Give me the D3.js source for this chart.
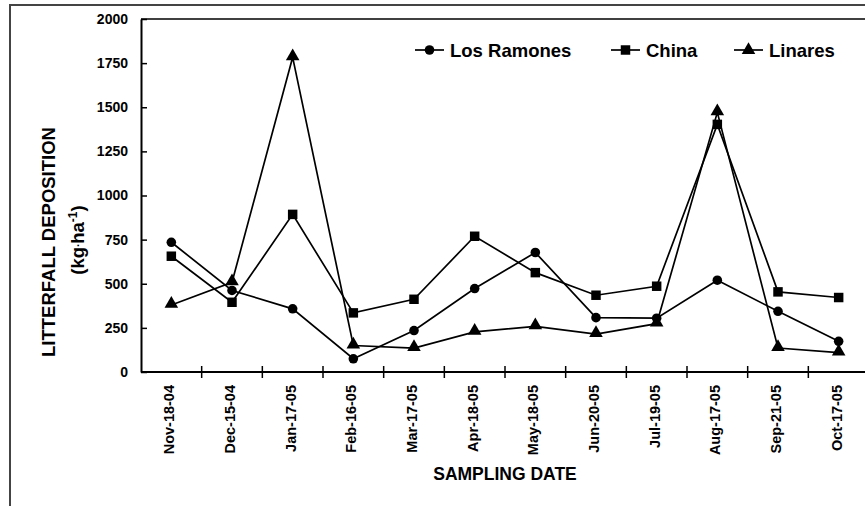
<!DOCTYPE html>
<html>
<head>
<meta charset="utf-8">
<script src="https://cdn.jsdelivr.net/npm/d3@7"></script>
<style>
  body { margin: 0; background: #fff; }
  svg { display: block; font-family: "Liberation Sans", Arial, sans-serif; }
</style>
</head>
<body>
<div id="chart"></div>
<script>
// sampling dates and litterfall values (kg/ha)
const dates = ['Nov-18-04', 'Dec-15-04', 'Jan-17-05', 'Feb-16-05', 'Mar-17-05', 'Apr-18-05',
  'May-18-05', 'Jun-20-05', 'Jul-19-05', 'Aug-17-05', 'Sep-21-05', 'Oct-17-05'];
const losRamones = [735, 462, 358, 75, 235, 473, 677, 308, 305, 520, 344, 174];
const china = [656, 395, 893, 335, 412, 769, 563, 435, 486, 1403, 454, 422];
const linares = [380, 508, 1783, 150, 135, 227, 259, 215, 274, 1471, 136, 110];
const yTicks = [0, 250, 500, 750, 1000, 1250, 1500, 1750, 2000];
const seriesNames = ['Los Ramones', 'China', 'Linares'];

const width = 865, height = 506;
const margin = { left: 141, top: 19, right: -4, bottom: 134 };

const svg = d3.select('#chart').append('svg')
  .attr('width', width)
  .attr('height', height);

// outer frame (only top and left show)
svg.append('path')
  .attr('d', `M10,${height} V5 H${width}`)
  .attr('fill', 'none')
  .attr('stroke', '#444')
  .attr('stroke-width', 2);

const x = d3.scaleBand()
  .domain(dates)
  .range([margin.left, width - margin.right])
  .padding(0);

const y = d3.scaleLinear()
  .domain([0, 2000])
  .range([height - margin.bottom, margin.top]);

const cx = d => x(d) + x.bandwidth() / 2;

// plot top border
svg.append('line')
  .attr('x1', margin.left).attr('x2', width)
  .attr('y1', y(2000)).attr('y2', y(2000))
  .attr('stroke', '#000').attr('stroke-width', 1.5);

// y axis
const yAxis = svg.append('g')
  .attr('transform', `translate(${margin.left},0)`)
  .call(d3.axisLeft(y).tickValues(yTicks).tickFormat(d3.format('d'))
    .tickSizeInner(6).tickSizeOuter(0).tickPadding(7));
yAxis.select('.domain').attr('stroke-width', 2);
yAxis.selectAll('.tick line').attr('x2', 6).attr('stroke-width', 1.5);
yAxis.selectAll('.tick text')
  .style('font-size', '14px').style('font-weight', 'bold').attr('fill', '#000');

// x axis: line + ticks at category boundaries
const xAxis = svg.append('g')
  .attr('transform', `translate(0,${y(0)})`);
xAxis.append('line')
  .attr('x1', margin.left).attr('x2', width)
  .attr('stroke', '#000').attr('stroke-width', 2);
xAxis.selectAll('line.tk')
  .data(dates.slice(1))
  .enter().append('line')
  .attr('class', 'tk')
  .attr('x1', d => x(d)).attr('x2', d => x(d))
  .attr('y1', -6).attr('y2', 6)
  .attr('stroke', '#000').attr('stroke-width', 1.5);
xAxis.selectAll('text')
  .data(dates)
  .enter().append('text')
  .attr('transform', d => `translate(${cx(d) - 2},13) rotate(-90)`)
  .attr('dy', '0.35em')
  .attr('text-anchor', 'end')
  .style('font-size', '14.5px')
  .style('font-weight', 'bold')
  .text(d => d);

// axis titles
svg.append('text')
  .attr('x', (margin.left + width - margin.right) / 2)
  .attr('y', 480)
  .attr('text-anchor', 'middle')
  .style('font-size', '17.5px').style('font-weight', 'bold')
  .text('SAMPLING DATE');

const yTitle = svg.append('text')
  .attr('transform', 'translate(0,242) rotate(-90)')
  .attr('text-anchor', 'middle')
  .style('font-size', '18.5px').style('font-weight', 'bold');
yTitle.append('tspan').attr('x', 0).attr('y', 55).text('LITTERFALL DEPOSITION');
const unit = svg.append('text')
  .attr('transform', 'translate(0,240) rotate(-90)')
  .attr('text-anchor', 'middle')
  .style('font-size', '18.5px').style('font-weight', 'bold');
unit.append('tspan').attr('x', 0).attr('y', 84).text('(kg');
unit.append('tspan').attr('dy', -5).style('font-size', '11px').text('.');
unit.append('tspan').attr('dy', 5).text('ha');
unit.append('tspan').attr('dy', -7).style('font-size', '12px').text('-1');
unit.append('tspan').attr('dy', 7).text(')');

// series
const series = [losRamones, china, linares];
const symbols = [d3.symbolCircle, d3.symbolSquare, d3.symbolTriangle];
const sizes = [72, 90, 80];

const line = d3.line()
  .x((d, i) => cx(dates[i]))
  .y(d => y(d));

series.forEach((vals, s) => {
  svg.append('path')
    .datum(vals)
    .attr('d', line)
    .attr('fill', 'none')
    .attr('stroke', '#000')
    .attr('stroke-width', 1.7);
  svg.selectAll('.m' + s)
    .data(vals)
    .enter().append('path')
    .attr('class', 'm' + s)
    .attr('transform', (d, i) => `translate(${cx(dates[i])},${y(d) - (s === 2 ? 1 : 0)})`)
    .attr('d', d3.symbol().type(symbols[s]).size(sizes[s]));
});

// legend
const legendX = [415, 611, 734];
const legend = svg.append('g').attr('transform', 'translate(0,50)');
seriesNames.forEach((name, s) => {
  const g = legend.append('g').attr('transform', `translate(${legendX[s]},0)`);
  g.append('line').attr('x1', 0).attr('x2', 29)
    .attr('stroke', '#000').attr('stroke-width', 1.7);
  g.append('path')
    .attr('transform', 'translate(14.5,0)')
    .attr('d', d3.symbol().type(symbols[s]).size(sizes[s]));
  g.append('text')
    .attr('x', 35).attr('dy', '0.36em')
    .style('font-size', '18.5px').style('font-weight', 'bold')
    .text(name);
});
</script>
</body>
</html>
